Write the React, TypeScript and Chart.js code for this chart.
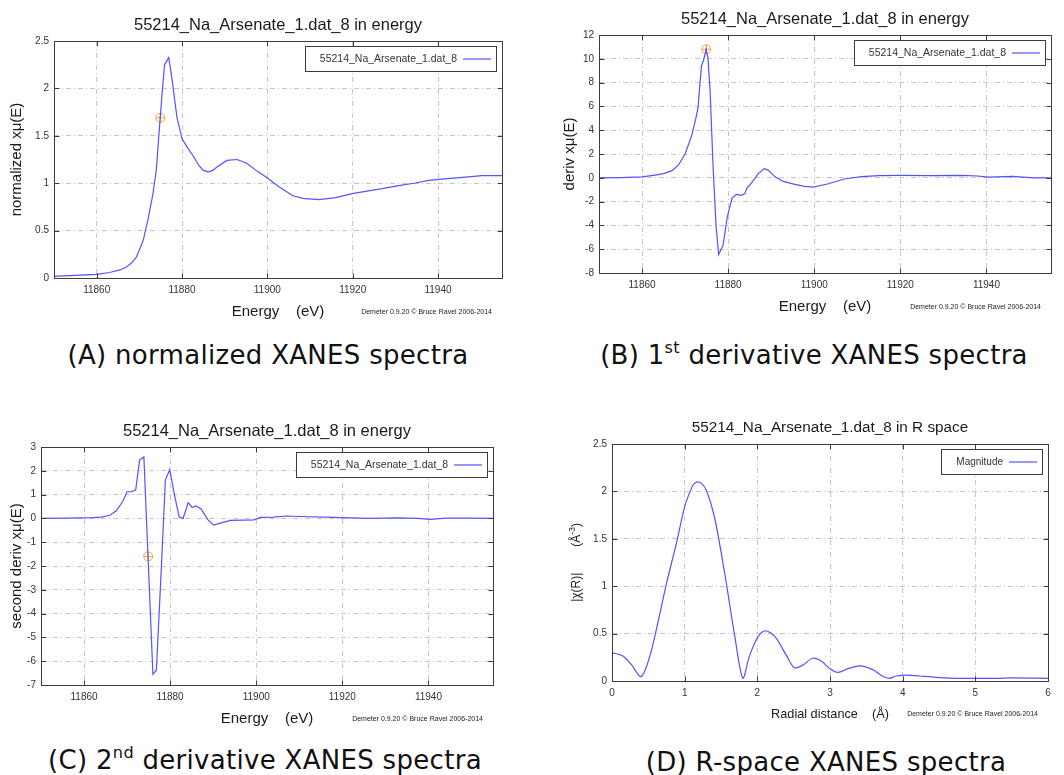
import React, { useEffect, useRef } from "react";
import { Chart, registerables } from "chart.js";

Chart.register(...registerables);

// ---- Panel A: normalized mu(E) ----
const energyNorm = [11850, 11855, 11860, 11863, 11865.5, 11867, 11868.2, 11869.3, 11870.9, 11872, 11873.2, 11874, 11874.6, 11875.4, 11875.9, 11876.9, 11877.7, 11878.8, 11880, 11881.2, 11882.6, 11883.9, 11885, 11886.2, 11887.2, 11888.2, 11890.5, 11892.9, 11895.2, 11897.5, 11899.7, 11902.8, 11905.9, 11908.3, 11912.1, 11916, 11919.9, 11923, 11926.9, 11930.8, 11934.7, 11937.9, 11940.2, 11946.4, 11950.3, 11955];
const muNorm = [0.018, 0.028, 0.039, 0.058, 0.085, 0.116, 0.16, 0.22, 0.397, 0.61, 0.89, 1.15, 1.52, 1.98, 2.25, 2.325, 2.085, 1.7, 1.47, 1.38, 1.29, 1.19, 1.135, 1.12, 1.135, 1.17, 1.24, 1.25, 1.21, 1.13, 1.065, 0.96, 0.87, 0.84, 0.826, 0.847, 0.89, 0.914, 0.942, 0.974, 1.002, 1.03, 1.04, 1.065, 1.079, 1.08];

// ---- Panel B: first derivative ----
const energyDeriv = [11850, 11855, 11860, 11863, 11865, 11867, 11868.5, 11870, 11871.5, 11872.5, 11873, 11873.8, 11874.3, 11874.9, 11875.3, 11875.8, 11876.5, 11877.2, 11877.8, 11878.8, 11879.8, 11880.9, 11881.9, 11883.1, 11883.9, 11884.3, 11885.4, 11887, 11888.4, 11889.3, 11890.9, 11892.8, 11895.5, 11897.8, 11899.8, 11903.3, 11907, 11911, 11915, 11920, 11927, 11934, 11938, 11940.5, 11946, 11951, 11955];
const deriv1 = [0, 0.02, 0.07, 0.22, 0.35, 0.6, 1.1, 2.0, 3.5, 5.0, 5.9, 9.4, 9.9, 10.8, 10.1, 7.4, 0.9, -4.1, -6.45, -5.7, -3.3, -1.7, -1.4, -1.47, -1.33, -0.9, -0.45, 0.35, 0.77, 0.65, 0.08, -0.3, -0.55, -0.72, -0.78, -0.5, -0.1, 0.1, 0.18, 0.2, 0.18, 0.2, 0.15, 0.06, 0.12, 0, 0];

// ---- Panel C: second derivative ----
const energyDeriv2 = [11850, 11856, 11862, 11864, 11866, 11867.5, 11869, 11870, 11871, 11872, 11872.9, 11873.9, 11876, 11876.8, 11877.9, 11878.9, 11879.9, 11881.1, 11882.1, 11883, 11884.2, 11885.1, 11886, 11887.2, 11888.8, 11890.1, 11891.5, 11894, 11899.5, 11901, 11904, 11907, 11910, 11918, 11926, 11933, 11937.5, 11940.5, 11944, 11949, 11955];
const deriv2 = [0, 0.01, 0.03, 0.05, 0.13, 0.32, 0.72, 1.12, 1.12, 1.2, 2.45, 2.58, -6.55, -6.38, -2.3, 1.62, 2.05, 0.9, 0.06, 0, 0.66, 0.46, 0.52, 0.4, -0.06, -0.28, -0.21, -0.08, -0.06, 0.04, 0.05, 0.1, 0.08, 0.04, 0, 0.02, 0, -0.04, 0.01, 0.01, 0];

// ---- Panel D: |chi(R)| ----
const radialDistance = [0, 0.15, 0.27, 0.4, 0.52, 0.63, 0.75, 0.885, 1.0, 1.07, 1.12, 1.17, 1.23, 1.3, 1.41, 1.55, 1.69, 1.8, 1.89, 2.01, 2.11, 2.24, 2.4, 2.51, 2.63, 2.76, 2.88, 3.0, 3.11, 3.25, 3.41, 3.59, 3.71, 3.82, 3.91, 4.07, 4.23, 4.46, 4.83, 5.29, 5.52, 6.0];
const chiMagnitude = [0.3, 0.264, 0.17, 0.046, 0.26, 0.61, 1.03, 1.45, 1.84, 1.99, 2.07, 2.1, 2.085, 2.01, 1.73, 1.14, 0.47, 0.03, 0.26, 0.47, 0.53, 0.47, 0.27, 0.14, 0.17, 0.24, 0.21, 0.13, 0.09, 0.13, 0.16, 0.12, 0.056, 0.028, 0.053, 0.063, 0.053, 0.039, 0.028, 0.028, 0.032, 0.028];

// Edge energy marker (E0) on each energy-space curve
const edgeEnergy = [11874.9];
const edgeNorm = [1.69];
const edgeDeriv1 = [10.8];
const edgeDeriv2 = [-1.6];

// Tick positions
const energyTicks = [11860, 11880, 11900, 11920, 11940];
const normTicks = [0, 0.5, 1, 1.5, 2, 2.5];
const deriv1Ticks = [-8, -6, -4, -2, 0, 2, 4, 6, 8, 10, 12];
const deriv2Ticks = [-7, -6, -5, -4, -3, -2, -1, 0, 1, 2, 3];
const radialTicks = [0, 1, 2, 3, 4, 5, 6];
const chiTicks = [0, 0.5, 1, 1.5, 2, 2.5];

const SANS = '"Liberation Sans", Arial, Helvetica, sans-serif';
const CAPTION_FONT = '"DejaVu Sans", "Noto Sans", sans-serif';
const LINE_BLUE = "#5353ff";
const MARK_ORANGE = "rgba(245,160,40,0.95)";
const GRID_GREY = "#c6c6c6";
const FRAME = "#3c3c3c";
const TEXT = "#1a1a1a";
const TICK_TEXT = "#333333";
const CREDIT = "Demeter 0.9.20 \u00a9 Bruce Ravel 2006-2014";

type Part = { text?: string; size?: number; rise?: number; gap?: number };

type PanelSpec = {
  box: { left: number; top: number; width: number; height: number };
  area: { left: number; top: number; right: number; bottom: number };
  xs: number[];
  ys: number[];
  markX?: number[];
  markY?: number[];
  xMin: number;
  xMax: number;
  yMin: number;
  yMax: number;
  xTicks: number[];
  yTicks: number[];
  label: string;
  title: string;
  titleSize: number;
  xTitle: Part[];
  xTitleDy: number;
  yTitle: Part[];
  yTitleX: number;
  tickSize: number;
  legendSize: number;
  tension: number;
};

function drawParts(ctx: CanvasRenderingContext2D, parts: Part[], cx: number, cy: number) {
  const widths = parts.map((p) => {
    if (p.gap) return p.gap;
    ctx.font = `${p.size}px ${SANS}`;
    return ctx.measureText(p.text || "").width;
  });
  const total = widths.reduce((a, b) => a + b, 0);
  let x = cx - total / 2;
  ctx.textAlign = "left";
  ctx.textBaseline = "middle";
  parts.forEach((p, i) => {
    if (p.text) {
      ctx.font = `${p.size}px ${SANS}`;
      ctx.fillText(p.text, x, cy - (p.rise || 0));
    }
    x += widths[i];
  });
}

// Frame, inward tick marks, key box and all annotation text, gnuplot style
function makeDecorations(spec: PanelSpec) {
  return {
    id: "gnuplotDecorations",
    afterDraw(chart: any) {
      const { ctx, chartArea: a, scales } = chart;
      const xs = scales.x;
      const ys = scales.y;
      ctx.save();

      // key
      const label = chart.data.datasets[0].label as string;
      ctx.font = `${spec.legendSize}px ${SANS}`;
      const tw = ctx.measureText(label).width;
      const boxR = Math.round(a.right - 6);
      const boxT = Math.round(a.top + 5);
      const boxH = 25;
      const lineR = boxR - 5;
      const lineL = lineR - 28;
      const textR = lineL - 6;
      const boxL = Math.round(textR - tw - 15);
      ctx.fillStyle = "#ffffff";
      ctx.fillRect(boxL, boxT, boxR - boxL, boxH);
      ctx.strokeStyle = FRAME;
      ctx.lineWidth = 1;
      ctx.strokeRect(boxL + 0.5, boxT + 0.5, boxR - boxL, boxH);
      ctx.fillStyle = TICK_TEXT;
      ctx.textAlign = "right";
      ctx.textBaseline = "middle";
      ctx.fillText(label, textR, boxT + boxH / 2 + 0.5);
      ctx.strokeStyle = LINE_BLUE;
      ctx.lineWidth = 1.2;
      ctx.beginPath();
      ctx.moveTo(lineL, boxT + boxH / 2 + 0.5);
      ctx.lineTo(lineR, boxT + boxH / 2 + 0.5);
      ctx.stroke();

      // frame
      ctx.strokeStyle = FRAME;
      ctx.lineWidth = 1;
      const L = Math.round(a.left) + 0.5;
      const T = Math.round(a.top) + 0.5;
      const R = Math.round(a.right) + 0.5;
      const B = Math.round(a.bottom) + 0.5;
      ctx.strokeRect(L, T, R - L, B - T);

      // inward ticks on all four sides
      const tick = 5;
      ctx.beginPath();
      spec.xTicks.forEach((v) => {
        const x = Math.round(xs.getPixelForValue(v)) + 0.5;
        ctx.moveTo(x, B);
        ctx.lineTo(x, B - tick);
        ctx.moveTo(x, T);
        ctx.lineTo(x, T + tick);
      });
      spec.yTicks.forEach((v) => {
        const y = Math.round(ys.getPixelForValue(v)) + 0.5;
        ctx.moveTo(L, y);
        ctx.lineTo(L + tick, y);
        ctx.moveTo(R, y);
        ctx.lineTo(R - tick, y);
      });
      ctx.stroke();

      // titles
      ctx.fillStyle = TEXT;
      const midX = (a.left + a.right) / 2;
      const midY = (a.top + a.bottom) / 2;
      drawParts(ctx, [{ text: spec.title, size: spec.titleSize }], midX, a.top - 16);
      drawParts(ctx, spec.xTitle, midX, a.bottom + spec.xTitleDy);
      ctx.save();
      ctx.translate(spec.yTitleX, midY);
      ctx.rotate(-Math.PI / 2);
      drawParts(ctx, spec.yTitle, 0, 0);
      ctx.restore();

      // program credit
      ctx.fillStyle = "#222";
      ctx.font = `7px ${SANS}`;
      ctx.textAlign = "right";
      ctx.textBaseline = "middle";
      ctx.fillText(CREDIT, a.right - 10, a.bottom + spec.xTitleDy);

      ctx.restore();
    },
  };
}

function buildConfig(spec: PanelSpec): any {
  const datasets: any[] = [
    {
      label: spec.label,
      data: spec.xs.map((x, i) => ({ x, y: spec.ys[i] })),
      borderColor: LINE_BLUE,
      borderWidth: 1.2,
      pointRadius: 0,
      tension: spec.tension,
      fill: false,
    },
  ];
  if (spec.markX && spec.markY) {
    const pts = spec.markX.map((x, i) => ({ x, y: spec.markY![i] }));
    ["circle", "cross"].forEach((style) => {
      datasets.push({
        label: "E0",
        data: pts,
        showLine: false,
        pointStyle: style,
        pointRadius: 4.5,
        pointBorderWidth: 1,
        pointBorderColor: MARK_ORANGE,
        pointBackgroundColor: "rgba(0,0,0,0)",
        borderColor: MARK_ORANGE,
        backgroundColor: "rgba(0,0,0,0)",
      });
    });
  }
  const tickFont = { family: SANS, size: spec.tickSize };
  const gridOpts = { color: GRID_GREY, lineWidth: 1, drawTicks: false };
  const borderOpts = { display: false, dash: [5, 3, 1, 3] };
  return {
    type: "line",
    data: { datasets },
    options: {
      responsive: false,
      animation: false,
      events: [],
      layout: {
        padding: {
          left: 0,
          top: spec.area.top,
          right: spec.box.width - spec.area.right,
          bottom: 0,
        },
      },
      plugins: {
        legend: { display: false },
        title: { display: false },
        tooltip: { enabled: false },
      },
      scales: {
        x: {
          type: "linear",
          min: spec.xMin,
          max: spec.xMax,
          afterBuildTicks: (s: any) => {
            s.ticks = spec.xTicks.map((value) => ({ value }));
          },
          afterFit: (s: any) => {
            s.height = spec.box.height - spec.area.bottom;
          },
          grid: gridOpts,
          border: borderOpts,
          ticks: {
            font: tickFont,
            color: TICK_TEXT,
            padding: 6,
            maxRotation: 0,
            autoSkip: false,
            callback: (v: number) => String(v),
          },
        },
        y: {
          type: "linear",
          min: spec.yMin,
          max: spec.yMax,
          afterBuildTicks: (s: any) => {
            s.ticks = spec.yTicks.map((value) => ({ value }));
          },
          afterFit: (s: any) => {
            s.width = spec.area.left;
          },
          grid: gridOpts,
          border: borderOpts,
          ticks: {
            font: tickFont,
            color: TICK_TEXT,
            padding: 5,
            autoSkip: false,
            callback: (v: number) => String(v),
          },
        },
      },
    },
    plugins: [makeDecorations(spec)],
  };
}

const sampleLabel = "55214_Na_Arsenate_1.dat_8";

const panels: PanelSpec[] = [
  {
    box: { left: 0, top: 0, width: 530, height: 325 },
    area: { left: 54, top: 41, right: 502, bottom: 278 },
    xs: energyNorm,
    ys: muNorm,
    markX: edgeEnergy,
    markY: edgeNorm,
    xMin: 11850,
    xMax: 11955,
    yMin: 0,
    yMax: 2.5,
    xTicks: energyTicks,
    yTicks: normTicks,
    label: sampleLabel,
    title: `${sampleLabel} in energy`,
    titleSize: 16.5,
    xTitle: [{ text: "Energy    (eV)", size: 15 }],
    xTitleDy: 34,
    yTitle: [{ text: "normalized x\u03bc(E)", size: 15 }],
    yTitleX: 17,
    tickSize: 10,
    legendSize: 10.5,
    tension: 0,
  },
  {
    box: { left: 530, top: 0, width: 534, height: 325 },
    area: { left: 69, top: 35, right: 521, bottom: 273 },
    xs: energyDeriv,
    ys: deriv1,
    markX: edgeEnergy,
    markY: edgeDeriv1,
    xMin: 11850,
    xMax: 11955,
    yMin: -8,
    yMax: 12,
    xTicks: energyTicks,
    yTicks: deriv1Ticks,
    label: sampleLabel,
    title: `${sampleLabel} in energy`,
    titleSize: 16.5,
    xTitle: [{ text: "Energy    (eV)", size: 15 }],
    xTitleDy: 34,
    yTitle: [{ text: "deriv x\u03bc(E)", size: 15 }],
    yTitleX: 40,
    tickSize: 10,
    legendSize: 10.5,
    tension: 0,
  },
  {
    box: { left: 0, top: 410, width: 530, height: 320 },
    area: { left: 41, top: 37, right: 493, bottom: 275 },
    xs: energyDeriv2,
    ys: deriv2,
    markX: edgeEnergy,
    markY: edgeDeriv2,
    xMin: 11850,
    xMax: 11955,
    yMin: -7,
    yMax: 3,
    xTicks: energyTicks,
    yTicks: deriv2Ticks,
    label: sampleLabel,
    title: `${sampleLabel} in energy`,
    titleSize: 16.5,
    xTitle: [{ text: "Energy    (eV)", size: 15 }],
    xTitleDy: 34,
    yTitle: [{ text: "second deriv x\u03bc(E)", size: 15 }],
    yTitleX: 17,
    tickSize: 10,
    legendSize: 10.5,
    tension: 0,
  },
  {
    box: { left: 530, top: 410, width: 534, height: 320 },
    area: { left: 82, top: 34, right: 518, bottom: 271 },
    xs: radialDistance,
    ys: chiMagnitude,
    xMin: 0,
    xMax: 6,
    yMin: 0,
    yMax: 2.5,
    xTicks: radialTicks,
    yTicks: chiTicks,
    label: "Magnitude",
    title: `${sampleLabel} in R space`,
    titleSize: 15.3,
    xTitle: [{ text: "Radial distance    (\u00c5)", size: 12.7 }],
    xTitleDy: 33,
    yTitle: [
      { text: "|\u03c7(R)|", size: 12 },
      { gap: 26 },
      { text: "(\u00c5", size: 12 },
      { text: "-3", size: 8.5, rise: 4.5 },
      { text: ")", size: 12 },
    ],
    yTitleX: 47,
    tickSize: 10,
    legendSize: 10,
    tension: 0.3,
  },
];

const captions = [
  { x: 268, y: 355, main: "(A) normalized XANES spectra" },
  { x: 814, y: 355, pre: "(B) 1", sup: "st", post: " derivative XANES spectra" },
  { x: 265, y: 760, pre: "(C) 2", sup: "nd", post: " derivative XANES spectra" },
  { x: 826, y: 762, main: "(D) R-space XANES spectra" },
];

function PlotPanel({ spec }: { spec: PanelSpec }) {
  const ref = useRef<HTMLCanvasElement | null>(null);
  useEffect(() => {
    const canvas = ref.current;
    if (!canvas) return;
    const chart = new Chart(canvas, buildConfig(spec));
    return () => chart.destroy();
  }, [spec]);
  return (
    <canvas
      ref={ref}
      width={spec.box.width}
      height={spec.box.height}
      style={{
        position: "absolute",
        left: spec.box.left,
        top: spec.box.top,
        width: spec.box.width,
        height: spec.box.height,
        display: "block",
      }}
    />
  );
}

export default function App() {
  useEffect(() => {
    document.body.style.margin = "0";
  }, []);
  return (
    <div
      style={{
        position: "absolute",
        left: 0,
        top: 0,
        width: 1064,
        height: 775,
        overflow: "hidden",
        background: "#ffffff",
      }}
    >
      {panels.map((p, i) => (
        <PlotPanel key={i} spec={p} />
      ))}
      {captions.map((c, i) => (
        <div
          key={"cap" + i}
          style={{
            position: "absolute",
            left: c.x,
            top: c.y,
            transform: "translate(-50%, -50%)",
            whiteSpace: "nowrap",
            fontFamily: CAPTION_FONT,
            fontSize: 26,
            letterSpacing: 0.3,
            lineHeight: "30px",
            color: "#111",
          }}
        >
          {c.main ? (
            c.main
          ) : (
            <>
              {c.pre}
              <sup style={{ fontSize: "0.62em", verticalAlign: "0.7em", lineHeight: 0 }}>{c.sup}</sup>
              {c.post}
            </>
          )}
        </div>
      ))}
    </div>
  );
}
